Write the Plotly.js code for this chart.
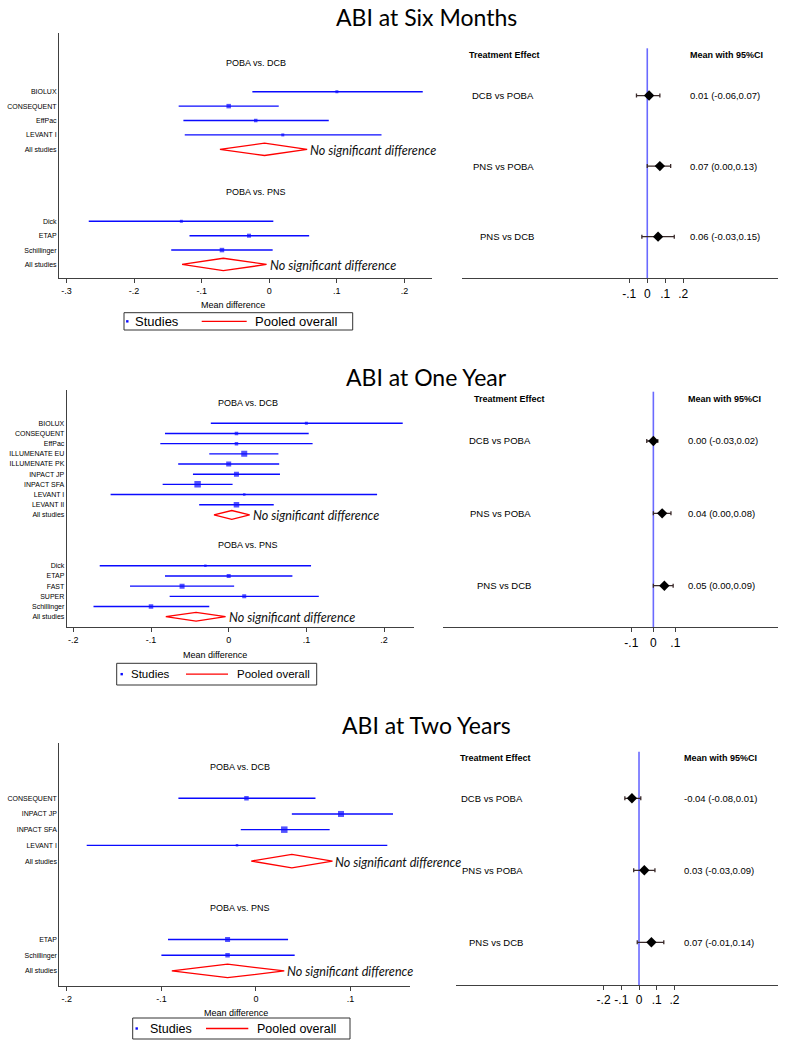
<!DOCTYPE html>
<html><head><meta charset="utf-8">
<script src="https://cdn.plot.ly/plotly-3.0.1.min.js"></script>
<style>body{margin:0;background:#fff}#chart{width:788px;height:1050px}</style>
</head><body><div id="chart"></div>
<script>
// ================= DATA =================
// --- ABI at Six Months : pairwise meta-analysis ---
const m6_dcb_names = ['BIOLUX','CONSEQUENT','EffPac','LEVANT I'];
const m6_dcb_est   = [0.10, -0.06, -0.02, 0.02];
const m6_dcb_lo    = [-0.025, -0.134, -0.127, -0.125];
const m6_dcb_hi    = [0.227, 0.014, 0.088, 0.166];
const m6_dcb_wt    = [3, 4.5, 3.5, 3];
const m6_dcb_pool  = [-0.007, -0.073, 0.056];   // est, lo, hi
const m6_pns_names = ['Dick','ETAP','Schillinger'];
const m6_pns_est   = [-0.13, -0.03, -0.07];
const m6_pns_lo    = [-0.267, -0.118, -0.145];
const m6_pns_hi    = [0.006, 0.059, 0.005];
const m6_pns_wt    = [3, 4, 4.5];
const m6_pns_pool  = [-0.068, -0.129, -0.004];
// --- ABI at One Year ---
const y1_dcb_names = ['BIOLUX','CONSEQUENT','EffPac','ILLUMENATE EU','ILLUMENATE PK','INPACT JP','INPACT SFA','LEVANT I','LEVANT II'];
const y1_dcb_est   = [0.10, 0.01, 0.01, 0.02, 0.00, 0.01, -0.04, 0.02, 0.01];
const y1_dcb_lo    = [-0.023, -0.082, -0.088, -0.025, -0.065, -0.046, -0.085, -0.152, -0.038];
const y1_dcb_hi    = [0.224, 0.103, 0.108, 0.064, 0.065, 0.066, 0.005, 0.191, 0.058];
const y1_dcb_wt    = [3, 3.5, 3.5, 6, 5, 5, 6.5, 2.5, 5.5];
const y1_dcb_pool  = [0.004, -0.019, 0.027];
const y1_pns_names = ['Dick','ETAP','FAST','SUPER','Schillinger'];
const y1_pns_est   = [-0.03, 0.00, -0.06, 0.02, -0.10];
const y1_pns_lo    = [-0.166, -0.082, -0.127, -0.076, -0.174];
const y1_pns_hi    = [0.106, 0.082, 0.007, 0.116, -0.025];
const y1_pns_wt    = [2.5, 4, 5, 4, 4.5];
const y1_pns_pool  = [-0.042, -0.081, -0.004];
// --- ABI at Two Years ---
const y2_dcb_names = ['CONSEQUENT','INPACT JP','INPACT SFA','LEVANT I'];
const y2_dcb_est   = [-0.01, 0.09, 0.03, -0.02];
const y2_dcb_lo    = [-0.082, 0.038, -0.016, -0.179];
const y2_dcb_hi    = [0.063, 0.145, 0.078, 0.139];
const y2_dcb_wt    = [4.5, 6, 6.5, 2.5];
const y2_dcb_pool  = [0.038, -0.005, 0.081];
const y2_pns_names = ['ETAP','Schillinger'];
const y2_pns_est   = [-0.03, -0.03];
const y2_pns_lo    = [-0.093, -0.10];
const y2_pns_hi    = [0.034, 0.041];
const y2_pns_wt    = [5, 4.5];
const y2_pns_pool  = [-0.03, -0.089, 0.03];
// --- Network meta-analysis (right panels) ---
const nma_labels = ['DCB vs POBA','PNS vs POBA','PNS vs DCB'];
const m6_nma_est = [0.01, 0.07, 0.06];
const m6_nma_lo  = [-0.06, 0.00, -0.03];
const m6_nma_hi  = [0.07, 0.13, 0.15];
const y1_nma_est = [0.00, 0.04, 0.05];
const y1_nma_lo  = [-0.03, 0.00, 0.00];
const y1_nma_hi  = [0.02, 0.08, 0.09];
const y2_nma_est = [-0.04, 0.03, 0.07];
const y2_nma_lo  = [-0.08, -0.03, -0.01];
const y2_nma_hi  = [0.01, 0.09, 0.14];
// tick labels
const left_ticks_m6 = [-0.3,-0.2,-0.1,0,0.1,0.2];
const left_ticks_y1 = [-0.2,-0.1,0,0.1,0.2];
const left_ticks_y2 = [-0.2,-0.1,0,0.1];
const right_ticks_m6 = [-0.1,0,0.1,0.2];
const right_ticks_y1 = [-0.1,0,0.1];
const right_ticks_y2 = [-0.2,-0.1,0,0.1,0.2];
const titles = ['ABI at Six Months','ABI at One Year','ABI at Two Years'];

// ================= BUILD =================
const W = 788, H = 1050;
const px = v => v / W, py = v => 1 - v / H;
const fmtTick = v => v === 0 ? '0' : (v < 0 ? '-' : '') + String(Math.abs(v)).replace(/^0/, '');
const BLUE = '#0a0aff', RED = '#ff0000', AX = '#404040';
const FONT = 'Liberation Sans, Arial, sans-serif';

const traces = [], annotations = [], shapes = [];
const layout = {
  width: W, height: H, margin: {l:0, r:0, t:0, b:0},
  paper_bgcolor: '#fff', plot_bgcolor: 'rgba(0,0,0,0)', showlegend: false,
  font: {family: FONT, color: '#000'}
};

function leftPanel(k, cfg) {
  const xa = 'x' + (k === 1 ? '' : k), ya = 'y' + (k === 1 ? '' : k);
  const n = cfg.dcb.names.length, m = cfg.pns.names.length;
  const dcbRows = cfg.dcb.names.map((_, i) => i + 1);
  const dcbAll = n + 1, pnsHead = n + 4;
  const pnsRows = cfg.pns.names.map((_, i) => n + 6 + i);
  const pnsAll = n + 6 + m;
  const groups = [[cfg.dcb, dcbRows, dcbAll], [cfg.pns, pnsRows, pnsAll]];
  groups.forEach(([g, rows, allRow]) => {
    traces.push({
      type: 'scatter', mode: 'markers', xaxis: xa, yaxis: ya,
      x: g.est, y: rows,
      marker: {symbol: 'square', color: BLUE, size: g.wt, line: {width: 0}},
      error_x: {type: 'data', symmetric: false,
        array: g.hi.map((h, i) => h - g.est[i]),
        arrayminus: g.lo.map((l, i) => g.est[i] - l),
        color: BLUE, thickness: 1.4, width: 0},
      hoverinfo: 'skip'
    });
    const [e, lo, hi] = g.pool, h = 0.43;
    traces.push({
      type: 'scatter', mode: 'lines', xaxis: xa, yaxis: ya,
      x: [lo, e, hi, e, lo], y: [allRow, allRow - h, allRow, allRow + h, allRow],
      line: {color: RED, width: 1.3}, hoverinfo: 'skip'
    });
    annotations.push({xref: xa, yref: ya, x: hi, y: allRow, xanchor: 'left', yanchor: 'middle',
      xshift: 1, yshift: -1, showarrow: false, text: '<i>No significant difference</i>',
      font: {family: 'Lato, Open Sans, sans-serif', size: 12.6, color: '#111'}});
  });
  annotations.push({xref: 'paper', yref: ya, x: px(cfg.headX), y: -1, xanchor: 'center', yanchor: 'middle',
    showarrow: false, text: 'POBA vs. DCB', font: {size: 9}});
  annotations.push({xref: 'paper', yref: ya, x: px(cfg.headX), y: pnsHead, xanchor: 'center', yanchor: 'middle',
    showarrow: false, text: 'POBA vs. PNS', font: {size: 9}});
  layout['xaxis' + (k === 1 ? '' : k)] = {
    domain: [px(cfg.x0), px(cfg.x1)], anchor: ya, range: cfg.xr,
    showline: true, linecolor: AX, linewidth: 1, ticks: 'outside', ticklen: 4, tickcolor: AX,
    tickvals: cfg.ticks, ticktext: cfg.ticks.map(fmtTick), tickfont: {size: 9},
    showgrid: false, zeroline: false
  };
  layout['yaxis' + (k === 1 ? '' : k)] = {
    domain: [py(cfg.y1), py(cfg.y0)], anchor: xa, range: cfg.yr,
    showline: true, linecolor: AX, linewidth: 1, ticks: '',
    tickvals: dcbRows.concat([dcbAll], pnsRows, [pnsAll]),
    ticktext: cfg.dcb.names.concat(['All studies'], cfg.pns.names, ['All studies']),
    tickfont: {size: 7}, showgrid: false, zeroline: false
  };
  annotations.push({xref: 'paper', yref: 'paper', x: px(cfg.mdX), y: py(cfg.mdY), xanchor: 'center', yanchor: 'middle',
    showarrow: false, text: 'Mean difference', font: {size: 9}});
}

function rightPanel(k, cfg) {
  const xa = 'x' + k, ya = 'y' + k;
  const rows = nma_labels.map((_, i) => i + 1);
  // null-effect reference line at 0
  shapes.push({type: 'line', layer: 'below', xref: xa, yref: ya + ' domain', x0: 0, x1: 0, y0: 0, y1: 1,
    line: {color: '#6a6aff', width: 1.6}});
  traces.push({
    type: 'scatter', mode: 'markers', xaxis: xa, yaxis: ya, x: cfg.est, y: rows,
    marker: {symbol: 'diamond', color: '#000', size: 8},
    error_x: {type: 'data', symmetric: false,
      array: cfg.hi.map((h, i) => h - cfg.est[i]),
      arrayminus: cfg.lo.map((l, i) => cfg.est[i] - l),
      color: '#3a2a2a', thickness: 1.3, width: 2},
    hoverinfo: 'skip'
  });
  layout['xaxis' + k] = {
    domain: [px(cfg.x0), px(cfg.x1)], anchor: ya, range: cfg.xr,
    showline: true, linecolor: AX, linewidth: 1, ticks: 'outside', ticklen: 4, tickcolor: AX,
    tickvals: cfg.ticks, ticktext: cfg.ticks.map(fmtTick), tickfont: {size: 12},
    showgrid: false, zeroline: false
  };
  layout['yaxis' + k] = {
    domain: [py(cfg.y1), py(cfg.y0)], anchor: xa, range: cfg.yr,
    showline: false, showticklabels: false, ticks: '', showgrid: false, zeroline: false
  };
  annotations.push({xref: 'paper', yref: 'paper', x: px(cfg.teX), y: py(cfg.headY), xanchor: 'left', yanchor: 'middle',
    showarrow: false, text: '<b>Treatment Effect</b>', font: {size: 9}});
  annotations.push({xref: 'paper', yref: 'paper', x: px(cfg.estX), y: py(cfg.headY), xanchor: 'left', yanchor: 'middle',
    showarrow: false, text: '<b>Mean with 95%CI</b>', font: {size: 9}});
  rows.forEach((r, i) => {
    annotations.push({xref: 'paper', yref: ya, x: px(cfg.labX), y: r, xanchor: 'right', yanchor: 'middle',
      showarrow: false, text: nma_labels[i], font: {size: 9.5}});
    annotations.push({xref: 'paper', yref: ya, x: px(cfg.estX), y: r, xanchor: 'left', yanchor: 'middle',
      showarrow: false, font: {size: 9.5},
      text: cfg.est[i].toFixed(2) + ' (' + cfg.lo[i].toFixed(2) + ',' + cfg.hi[i].toFixed(2) + ')'});
  });
}

function legendBox(cfg) {
  shapes.push({type: 'rect', xref: 'paper', yref: 'paper', x0: px(cfg.x0), x1: px(cfg.x1), y0: py(cfg.y1), y1: py(cfg.y0),
    line: {color: '#333', width: 1}, fillcolor: 'rgba(0,0,0,0)'});
  const cy = (cfg.y0 + cfg.y1) / 2;
  shapes.push({type: 'rect', xref: 'paper', yref: 'paper', x0: px(cfg.mk - 1.2), x1: px(cfg.mk + 1.2),
    y0: py(cy + 1.2), y1: py(cy - 1.2), line: {width: 0}, fillcolor: BLUE});
  shapes.push({type: 'line', xref: 'paper', yref: 'paper', x0: px(cfg.l0), x1: px(cfg.l1), y0: py(cy), y1: py(cy),
    line: {color: RED, width: 1.3}});
  annotations.push({xref: 'paper', yref: 'paper', x: px(cfg.t1), y: py(cy), xanchor: 'left', yanchor: 'middle',
    showarrow: false, text: 'Studies', font: {size: cfg.fs}});
  annotations.push({xref: 'paper', yref: 'paper', x: px(cfg.t2), y: py(cy), xanchor: 'left', yanchor: 'middle',
    showarrow: false, text: 'Pooled overall', font: {size: cfg.fs}});
}

const grp = (names, est, lo, hi, wt, pool) => ({names, est, lo, hi, wt, pool});

// Six months
leftPanel(1, {dcb: grp(m6_dcb_names, m6_dcb_est, m6_dcb_lo, m6_dcb_hi, m6_dcb_wt, m6_dcb_pool),
  pns: grp(m6_pns_names, m6_pns_est, m6_pns_lo, m6_pns_hi, m6_pns_wt, m6_pns_pool),
  x0: 59, x1: 432, y0: 33, y1: 278, xr: [-0.311, 0.2407], yr: [13.94, -3.08], ticks: left_ticks_m6,
  headX: 255.8, mdX: 233, mdY: 305});
rightPanel(2, {est: m6_nma_est, lo: m6_nma_lo, hi: m6_nma_hi, x0: 461.7, x1: 778.3, y0: 48.3, y1: 278.3,
  xr: [-1.031, 0.728], yr: [3.59, 0.33], ticks: right_ticks_m6, teX: 466.7, estX: 688, labX: 536, headY: 55});
legendBox({x0: 124, x1: 352.7, y0: 312.7, y1: 330, mk: 127.3, t1: 133, l0: 201.7, l1: 246.7, t2: 252.7, fs: 13});

// One year
leftPanel(3, {dcb: grp(y1_dcb_names, y1_dcb_est, y1_dcb_lo, y1_dcb_hi, y1_dcb_wt, y1_dcb_pool),
  pns: grp(y1_pns_names, y1_pns_est, y1_pns_lo, y1_pns_hi, y1_pns_wt, y1_pns_pool),
  x0: 66.7, x1: 414.3, y0: 390, y1: 627.3, xr: [-0.2085, 0.2389], yr: [21.04, -2.27], ticks: left_ticks_y1,
  headX: 247.5, mdX: 215, mdY: 655});
rightPanel(4, {est: y1_nma_est, lo: y1_nma_lo, hi: y1_nma_hi, x0: 443.3, x1: 778.3, y0: 391.7, y1: 627.3,
  xr: [-0.955, 0.568], yr: [3.575, 0.319], ticks: right_ticks_y1, teX: 472.3, estX: 685.5, labX: 532.7, headY: 399});
legendBox({x0: 116.7, x1: 316.7, y0: 663.3, y1: 685, mk: 121.7, t1: 129, l0: 186, l1: 228, t2: 235, fs: 11.5});

// Two years
leftPanel(5, {dcb: grp(y2_dcb_names, y2_dcb_est, y2_dcb_lo, y2_dcb_hi, y2_dcb_wt, y2_dcb_pool),
  pns: grp(y2_pns_names, y2_pns_est, y2_pns_lo, y2_pns_hi, y2_pns_wt, y2_pns_pool),
  x0: 59.3, x1: 410, y0: 742.7, y1: 986, xr: [-0.208, 0.163], yr: [12.96, -2.54], ticks: left_ticks_y2,
  headX: 239.5, mdX: 236, mdY: 1012.7});
rightPanel(6, {est: y2_nma_est, lo: y2_nma_lo, hi: y2_nma_hi, x0: 456, x1: 778.3, y0: 751.7, y1: 985,
  xr: [-1.034, 0.787], yr: [3.593, 0.353], ticks: right_ticks_y2, teX: 458.3, estX: 682.3, labX: 525, headY: 758.3});
legendBox({x0: 132.7, x1: 350, y0: 1018, y1: 1039, mk: 136.7, t1: 148.3, l0: 206, l1: 248.3, t2: 255, fs: 12.5});

// Panel titles
[[titles[0], 17], [titles[1], 377], [titles[2], 725]].forEach(([t, y]) => {
  annotations.push({xref: 'paper', yref: 'paper', x: px(426), y: py(y), xanchor: 'center', yanchor: 'middle',
    showarrow: false, text: t, font: {family: 'Lato, Open Sans, sans-serif', size: 23, color: '#000'}});
});

layout.annotations = annotations;
layout.shapes = shapes;
Plotly.newPlot('chart', traces, layout, {staticPlot: true, displayModeBar: false});
</script>
</body></html>
